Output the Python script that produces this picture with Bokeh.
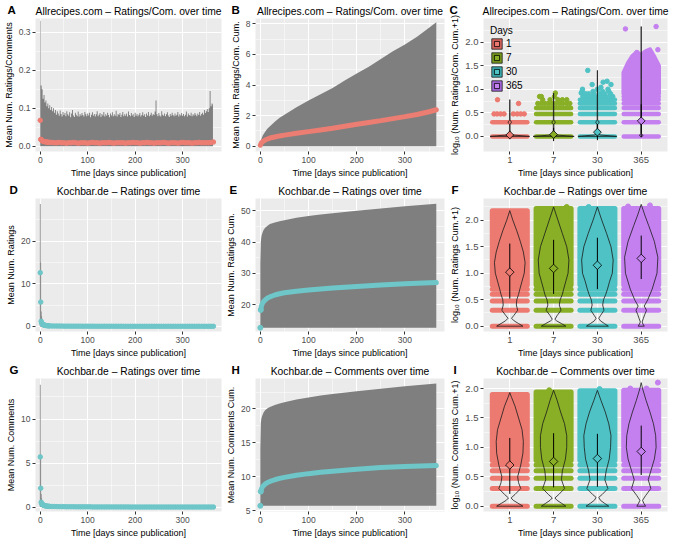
import math
from bokeh.plotting import figure
from bokeh.layouts import gridplot
from bokeh.models import (FixedTicker, NumeralTickFormatter, Legend, LegendItem,
                          Range1d, Title)
from bokeh.embed import file_html
from bokeh.resources import INLINE

# ------------------------------------------------------------------ data
DAY_LABELS = ["1", "7", "30", "365"]
TIME_LABEL = "Time [days since publication]"

A_DAYS = list(range(0, 366, 2))
A_TOP = [
    0.330, 0.160, 0.150, 0.125, 0.135, 0.115, 0.120, 0.105, 0.112, 0.100, 0.108, 0.095, 0.103, 0.092, 0.100,
    0.088, 0.095, 0.083, 0.092, 0.086, 0.080, 0.094, 0.085, 0.078, 0.090, 0.082, 0.087, 0.079, 0.092, 0.084,
    0.080, 0.089, 0.076, 0.086, 0.095, 0.081, 0.077, 0.088, 0.083, 0.079, 0.091, 0.078, 0.085, 0.080, 0.087,
    0.082, 0.078, 0.090, 0.084, 0.079, 0.086, 0.081, 0.088, 0.076, 0.083, 0.089, 0.080, 0.085, 0.078, 0.084,
    0.092, 0.079, 0.083, 0.087, 0.077, 0.085, 0.081, 0.090, 0.078, 0.084, 0.080, 0.088, 0.082, 0.076, 0.086,
    0.081, 0.089, 0.079, 0.084, 0.080, 0.093, 0.078, 0.085, 0.082, 0.087, 0.077, 0.083, 0.090, 0.079, 0.084,
    0.080, 0.086, 0.078, 0.091, 0.082, 0.079, 0.087, 0.081, 0.084, 0.077, 0.088, 0.080, 0.085, 0.079, 0.083,
    0.087, 0.078, 0.082, 0.089, 0.080, 0.084, 0.077, 0.086, 0.081, 0.090, 0.079, 0.083, 0.088, 0.080, 0.085,
    0.082, 0.091, 0.120, 0.084, 0.079, 0.087, 0.081, 0.078, 0.092, 0.083, 0.080, 0.086, 0.079, 0.084, 0.089,
    0.081, 0.077, 0.085, 0.080, 0.088, 0.082, 0.079, 0.086, 0.080, 0.083, 0.090, 0.078, 0.084, 0.081, 0.087,
    0.080, 0.085, 0.079, 0.083, 0.091, 0.078, 0.086, 0.082, 0.080, 0.088, 0.079, 0.084, 0.081, 0.087, 0.083,
    0.079, 0.086, 0.082, 0.090, 0.080, 0.085, 0.088, 0.083, 0.095, 0.087, 0.092, 0.098, 0.090, 0.100, 0.145,
    0.105, 0.112, 0.110]
A_PT_DAYS = [0, 1, 2, 3, 4, 5, 6, 8, 10, 12, 14, 16, 18, 20] + list(range(25, 366, 5))
A_PT_MEAN = [
    0.068, 0.018, 0.017, 0.016, 0.015, 0.014, 0.013, 0.012, 0.012, 0.011, 0.011, 0.010, 0.010, 0.010,
    0.010, 0.009, 0.009, 0.010, 0.009, 0.009, 0.008, 0.009, 0.009, 0.010,
    0.009, 0.008, 0.009, 0.009, 0.009, 0.008, 0.009, 0.010, 0.009, 0.009,
    0.008, 0.009, 0.009, 0.009, 0.010, 0.009, 0.008, 0.009, 0.009, 0.009,
    0.009, 0.008, 0.009, 0.009, 0.010, 0.009, 0.009, 0.008, 0.009, 0.009,
    0.010, 0.009, 0.009, 0.008, 0.009, 0.009, 0.009, 0.010, 0.009, 0.008,
    0.009, 0.009, 0.009, 0.008, 0.009, 0.010, 0.009, 0.009, 0.009, 0.008,
    0.009, 0.009, 0.010, 0.009, 0.009, 0.009, 0.009, 0.010, 0.011]

B_DAYS = [0, 2, 5, 10, 15, 20, 30, 40, 50, 60, 75, 100, 125, 150, 175, 200, 225, 250, 275, 300, 325, 350, 365]
B_UPPER = [0.1, 0.45, 0.7, 0.95, 1.15, 1.3, 1.6, 1.85, 2.05, 2.25, 2.55, 2.98, 3.4, 3.8, 4.3, 4.75,
           5.2, 5.7, 6.2, 6.65, 7.15, 7.75, 8.1]
B_LOWER = 0.0
B_MEAN = [0.06, 0.2, 0.3, 0.4, 0.47, 0.53, 0.6, 0.67, 0.72, 0.77, 0.84, 0.95, 1.06, 1.17, 1.3, 1.43,
          1.55, 1.67, 1.8, 1.93, 2.07, 2.25, 2.38]

D_BAR_DAYS = [0, 1, 2, 3, 4, 5, 6, 7, 8, 9, 10]
D_BAR_TOP = [28.7, 15.0, 3.5, 2.4, 1.8, 1.4, 1.1, 0.9, 0.8, 0.7, 0.6]
D_PT_DAYS = [0, 1, 2, 3, 4, 5, 6, 7, 8, 9, 10, 12, 14, 16, 18, 20] + list(range(25, 366, 5))
D_PT_MEAN = [
    12.6, 5.7, 1.2, 0.8, 0.6, 0.5, 0.42, 0.36, 0.32, 0.28, 0.25, 0.2, 0.17, 0.15, 0.13, 0.11,
    0.09, 0.08, 0.08, 0.07, 0.07, 0.06, 0.06, 0.06, 0.05, 0.05,
    0.05, 0.05, 0.04, 0.04, 0.04, 0.04, 0.04, 0.04, 0.03, 0.03,
    0.03, 0.03, 0.03, 0.03, 0.03, 0.03, 0.03, 0.03, 0.03, 0.03,
    0.02, 0.02, 0.02, 0.02, 0.02, 0.02, 0.02, 0.02, 0.02, 0.02,
    0.02, 0.02, 0.02, 0.02, 0.02, 0.02, 0.02, 0.02, 0.02, 0.02,
    0.02, 0.02, 0.02, 0.02, 0.02, 0.02, 0.02, 0.02, 0.02, 0.02,
    0.02, 0.02, 0.02, 0.02, 0.02, 0.02, 0.02, 0.02, 0.02]

E_DAYS = [0, 1, 2, 3, 5, 7, 10, 15, 20, 30, 40, 50, 75, 100, 125, 150, 200, 250, 300, 365]
E_MEAN = [12.6, 18.3, 19.3, 19.9, 20.6, 21.0, 21.5, 22.1, 22.5, 23.1, 23.5, 23.8, 24.3, 24.7,
          25.0, 25.3, 25.8, 26.3, 26.7, 27.1]
E_UPPER = [33.0, 40.0, 41.5, 42.3, 43.3, 44.0, 44.6, 45.3, 45.8, 46.3, 46.7, 47.0, 47.8, 48.4,
           48.9, 49.3, 50.1, 50.8, 51.5, 52.3]
E_LOWER = 12.6

G_BAR_DAYS = [0, 1, 2, 3, 4, 5, 6, 7, 8, 9, 10]
G_BAR_TOP = [13.9, 6.0, 1.5, 1.0, 0.8, 0.6, 0.5, 0.45, 0.4, 0.35, 0.3]
G_PT_DAYS = [0, 1, 2, 3, 4, 5, 6, 7, 8, 9, 10, 12, 14, 16, 18, 20] + list(range(25, 366, 5))
G_PT_MEAN = [
    5.7, 2.15, 0.55, 0.4, 0.32, 0.27, 0.24, 0.21, 0.19, 0.17, 0.15, 0.13, 0.11, 0.1, 0.09, 0.08,
    0.07, 0.06, 0.06, 0.05, 0.05, 0.05, 0.04, 0.04, 0.04, 0.04,
    0.03, 0.03, 0.03, 0.03, 0.03, 0.03, 0.03, 0.02, 0.02, 0.02,
    0.02, 0.02, 0.02, 0.02, 0.02, 0.02, 0.02, 0.02, 0.02, 0.02,
    0.02, 0.02, 0.02, 0.01, 0.01, 0.01, 0.01, 0.01, 0.01, 0.01,
    0.01, 0.01, 0.01, 0.01, 0.01, 0.01, 0.01, 0.01, 0.01, 0.01,
    0.01, 0.01, 0.01, 0.01, 0.01, 0.01, 0.01, 0.01, 0.01, 0.01,
    0.01, 0.01, 0.01, 0.01, 0.01, 0.01, 0.01, 0.01, 0.01]

H_DAYS = [0, 1, 2, 3, 5, 7, 10, 15, 20, 30, 40, 50, 75, 100, 125, 150, 200, 250, 300, 365]
H_MEAN = [5.7, 7.8, 8.1, 8.3, 8.55, 8.7, 8.9, 9.15, 9.3, 9.55, 9.75, 9.9, 10.2, 10.45,
          10.65, 10.8, 11.1, 11.35, 11.5, 11.65]
H_UPPER = [14.0, 17.9, 18.5, 18.8, 19.2, 19.5, 19.8, 20.1, 20.3, 20.6, 20.8, 21.0, 21.4, 21.7,
           22.0, 22.2, 22.6, 23.0, 23.35, 23.75]
H_LOWER = 5.7

C_BANDS = [[0.0, 0.301], [0.0, 0.301, 0.477, 0.602],
           [0.0, 0.301, 0.477, 0.602, 0.699, 0.778],
           [0.0, 0.301, 0.477, 0.602, 0.699, 0.778, 0.845]]
C_SP_CAT = [1] * 10 + [2] * 19 + [3] * 30 + [4] * 5
C_SP_DX = [-0.36, -0.29, -0.21, -0.13, 0.08, 0.17, 0.25, 0.33, -0.28, 0.2,
           -0.36, -0.28, -0.2, -0.12, -0.04, 0.05, 0.13, 0.21, 0.3, 0.37,
           -0.25, -0.08, 0.1, 0.2, 0.3, -0.32, 0.02, -0.28, 0.04,
           -0.37, -0.3, -0.22, -0.14, -0.06, 0.03, 0.11, 0.19, 0.27, 0.35,
           -0.33, -0.2, -0.08, 0.05, 0.16, 0.3, -0.27, -0.1, 0.12, 0.26,
           -0.35, 0.0, 0.24, -0.34, -0.12, 0.13, 0.31, 0.22, -0.22, 0.08,
           0.17, 0.34, -0.36, 0.38, -0.1]
C_SP_Y = [0.477] * 8 + [0.778, 0.699] + \
         [0.699] * 10 + [0.778] * 5 + [0.845] * 3 + [0.92, 0.92] + \
         [0.845] * 10 + [0.903] * 6 + [0.954] * 4 + [1.0] * 3 + \
         [1.10, 1.15, 1.10, 1.17, 1.40, 1.04, 1.06] + \
         [2.33, 2.28, 1.84, 1.78, 1.90]
C365_LO = 0.903
C365_TOP_DX = [-0.4, -0.3, -0.2, -0.1, 0.0, 0.1, 0.2, 0.3, 0.4]
C365_TOP_Y = [1.35, 1.55, 1.7, 1.78, 1.72, 1.8, 1.84, 1.68, 1.5]
C_V_Y = [[0.0, 0.012, 0.03, 0.06, 0.26, 0.28, 0.30, 0.32, 0.34, 0.5, 0.78],
         [0.0, 0.012, 0.03, 0.06, 0.26, 0.28, 0.30, 0.32, 0.34, 0.5, 0.92],
         [0.0, 0.012, 0.03, 0.06, 0.26, 0.28, 0.30, 0.32, 0.34, 0.5, 1.4],
         [0.0, 0.01, 0.02, 0.035, 0.06, 0.28, 0.3, 0.32, 0.6, 1.2, 2.33]]
C_V_W = [[0.45, 0.3, 0.06, 0.008, 0.006, 0.03, 0.038, 0.03, 0.006, 0.005, 0.0],
         [0.47, 0.3, 0.06, 0.008, 0.006, 0.03, 0.038, 0.03, 0.006, 0.005, 0.0],
         [0.44, 0.3, 0.06, 0.008, 0.006, 0.03, 0.038, 0.03, 0.006, 0.005, 0.0],
         [0.02, 0.035, 0.038, 0.03, 0.006, 0.006, 0.012, 0.006, 0.005, 0.004, 0.0]]
C_MEAN = [0.03, 0.04, 0.09, 0.33]
C_LO = [-0.06, -0.1, -0.08, -0.02]
C_HI = [0.12, 0.18, 0.26, 0.68]

F_BANDS = [[0.0, 0.301, 0.477, 0.602, 0.699], [0.0, 0.301, 0.477, 0.602, 0.699],
           [0.0, 0.301, 0.477, 0.602, 0.699], [0.0, 0.301, 0.477, 0.602, 0.699]]
F_SOLID_LO = [0.778, 0.778, 0.778, 0.778]
F_SOLID_HI = [2.18, 2.22, 2.22, 2.22]
F_SP_CAT = [2, 3, 4, 4]
F_SP_DX = [0.3, -0.2, -0.3, 0.2]
F_SP_Y = [2.25, 2.25, 2.26, 2.28]
F_V_Y = [[0.0, 0.05, 0.1, 0.15, 0.2, 0.3, 0.4, 0.5, 0.6, 0.7, 0.85, 1.0, 1.2, 1.4, 1.6, 1.8, 2.0, 2.18],
         [0.0, 0.05, 0.1, 0.13, 0.2, 0.3, 0.4, 0.5, 0.6, 0.7, 0.85, 1.0, 1.25, 1.5, 1.75, 2.0, 2.25],
         [0.0, 0.05, 0.1, 0.15, 0.2, 0.3, 0.4, 0.5, 0.6, 0.7, 0.85, 1.0, 1.25, 1.5, 1.75, 2.0, 2.25],
         [0.0, 0.04, 0.08, 0.15, 0.22, 0.3, 0.38, 0.5, 0.7, 1.0, 1.3, 1.6, 1.9, 2.1, 2.3]]
F_V_W = [[0.30, 0.2, 0.1, 0.04, 0.09, 0.18, 0.15, 0.16, 0.2, 0.23, 0.28, 0.33, 0.35, 0.31, 0.24, 0.16, 0.07, 0.0],
         [0.28, 0.18, 0.07, 0.03, 0.08, 0.17, 0.13, 0.15, 0.2, 0.23, 0.28, 0.33, 0.35, 0.30, 0.20, 0.10, 0.0],
         [0.25, 0.16, 0.07, 0.03, 0.07, 0.15, 0.12, 0.14, 0.19, 0.23, 0.28, 0.34, 0.36, 0.31, 0.21, 0.10, 0.0],
         [0.07, 0.04, 0.02, 0.05, 0.08, 0.12, 0.07, 0.15, 0.25, 0.36, 0.38, 0.30, 0.17, 0.08, 0.0]]
F_MEAN = [1.02, 1.09, 1.15, 1.28]
F_LO = [0.52, 0.61, 0.70, 0.89]
F_HI = [1.56, 1.63, 1.67, 1.71]

I_BANDS = [[0.0, 0.301, 0.477, 0.602, 0.699], [0.0, 0.301, 0.477, 0.602, 0.699],
           [0.0, 0.301, 0.477, 0.602, 0.699], [0.0, 0.301, 0.477, 0.602, 0.699]]
I_SOLID_LO = [0.778, 0.778, 0.778, 0.778]
I_SOLID_HI = [1.9, 1.94, 1.96, 1.97]
I_SP_CAT = [2, 3, 4, 4, 4]
I_SP_DX = [-0.1, 0.05, 0.38, 0.12, -0.25]
I_SP_Y = [1.97, 1.99, 2.1, 2.0, 2.0]
I_V_Y = [[0.0, 0.05, 0.1, 0.14, 0.2, 0.3, 0.4, 0.5, 0.7, 0.9, 1.1, 1.3, 1.5, 1.7, 1.85, 1.93],
         [0.0, 0.05, 0.1, 0.14, 0.2, 0.3, 0.45, 0.6, 0.8, 1.0, 1.2, 1.4, 1.6, 1.8, 1.97],
         [0.0, 0.05, 0.1, 0.15, 0.2, 0.3, 0.45, 0.6, 0.8, 1.0, 1.2, 1.4, 1.6, 1.8, 1.97],
         [0.0, 0.05, 0.1, 0.18, 0.3, 0.45, 0.6, 0.8, 1.0, 1.2, 1.4, 1.6, 1.8, 2.0, 2.1]]
I_V_W = [[0.30, 0.19, 0.08, 0.03, 0.12, 0.25, 0.2, 0.18, 0.25, 0.3, 0.31, 0.28, 0.2, 0.12, 0.04, 0.0],
         [0.28, 0.18, 0.08, 0.03, 0.12, 0.25, 0.18, 0.2, 0.27, 0.3, 0.3, 0.25, 0.16, 0.08, 0.0],
         [0.26, 0.16, 0.07, 0.03, 0.11, 0.24, 0.17, 0.2, 0.27, 0.3, 0.31, 0.26, 0.18, 0.08, 0.0],
         [0.10, 0.06, 0.03, 0.1, 0.22, 0.16, 0.22, 0.3, 0.34, 0.33, 0.28, 0.2, 0.11, 0.03, 0.0]]
I_MEAN = [0.70, 0.76, 0.81, 0.93]
I_LO = [0.21, 0.32, 0.33, 0.53]
I_HI = [1.16, 1.24, 1.23, 1.37]

# ------------------------------------------------------------------ style
FONT = "Liberation Sans"
BG = "#EBEBEB"
GREY = "#7F7F7F"
PINK = "#EC7D73"
TEAL = "#6EC6C8"
CAT_COLORS = ["#EC7A70", "#88AF25", "#4EC2C4", "#C580F0"]
CAT_DARK = ["#D9645E", "#779A1A", "#3AAEB0", "#A867E0"]

W, H = 223, 180
TOP, BOTTOM, RIGHT = 18, 29, 2
T_XR = (-10, 382)
LETTER_SIZE = 11.5
# two-line letter title with a negative standoff: zero-height panel, text lifted into the title row
LETTER_STANDOFF = -28.5


def make_fig(letter, title, ylabel, left, xr, yr, xticks, xminor, yticks, yminor,
             yfmt, tick_size):
    p = figure(width=W, height=H, output_backend="svg", toolbar_location=None,
               x_range=Range1d(*xr), y_range=Range1d(*yr),
               min_border_left=left, min_border_right=RIGHT,
               min_border_top=TOP, min_border_bottom=BOTTOM)
    p.title.text = title
    p.title.align = "center"
    p.title.text_font = FONT
    p.title.text_font_size = "10.3px"
    p.title.text_font_style = "normal"
    p.title.text_color = "black"
    p.title.standoff = 3
    p.add_layout(Title(text=letter + "\n\u00a0", align="left", offset=-(left - 3),
                       vertical_align="top", standoff=LETTER_STANDOFF,
                       text_font=FONT, text_font_style="bold",
                       text_font_size=f"{LETTER_SIZE}px", text_color="black"), "above")
    p.background_fill_color = BG
    p.border_fill_color = "white"
    p.outline_line_color = None
    p.xaxis.axis_label = TIME_LABEL
    p.yaxis.axis_label = ylabel
    for ax in p.axis:
        ax.axis_line_color = None
        ax.major_tick_out = 3
        ax.major_tick_in = 0
        ax.minor_tick_out = 0
        ax.minor_tick_in = 0
        ax.major_tick_line_color = "#333333"
        ax.major_label_text_font = FONT
        ax.major_label_text_font_size = tick_size
        ax.major_label_text_color = "#4D4D4D"
        ax.major_label_standoff = 2
        ax.axis_label_text_font = FONT
        ax.axis_label_text_font_size = "9px"
        ax.axis_label_text_font_style = "normal"
        ax.axis_label_text_color = "black"
        ax.axis_label_standoff = 2
    p.xaxis.ticker = FixedTicker(ticks=xticks, minor_ticks=xminor)
    p.yaxis.ticker = FixedTicker(ticks=yticks, minor_ticks=yminor)
    p.yaxis.formatter = NumeralTickFormatter(format=yfmt)
    for g in (p.xgrid, p.ygrid):
        g.grid_line_color = "white"
        g.grid_line_width = 1
        g.minor_grid_line_color = "white"
        g.minor_grid_line_width = 0.5
    return p


def time_fig(letter, title, ylabel, left, yr, yticks, yminor, yfmt):
    return make_fig(letter, title, ylabel, left, T_XR, yr, [0, 100, 200, 300],
                    [50, 150, 250, 350], yticks, yminor, yfmt, "8.5px")


def violin_fig(letter, title, ylabel, left, yr, yticks, yminor):
    p = make_fig(letter, title, ylabel, left, (0.4, 4.6), yr, [1, 2, 3, 4], [],
                 yticks, yminor, "0.0", "9.5px")
    p.xaxis.major_label_overrides = {1: DAY_LABELS[0], 2: DAY_LABELS[1],
                                     3: DAY_LABELS[2], 4: DAY_LABELS[3]}
    return p


def draw_violins(p, bands, sp_cat, sp_dx, sp_y, vys, vws, lo, hi, mean, pt, dsize,
                 solid_lo=None, solid_hi=None):
    x0, x1, yy, cc = [], [], [], []
    for k, levels in enumerate(bands):
        for lv in levels:
            x0.append(k + 1 - 0.4)
            x1.append(k + 1 + 0.4)
            yy.append(lv)
            cc.append(CAT_COLORS[k])
    p.segment(x0=x0, y0=yy, x1=x1, y1=yy, line_color=cc, line_width=pt, line_cap="round")
    if solid_lo is not None:
        for k in range(4):
            p.quad(left=[k + 1 - 0.4], right=[k + 1 + 0.4], bottom=[solid_lo[k]], top=[solid_hi[k]],
                   fill_color=CAT_COLORS[k], line_color=CAT_COLORS[k], line_width=pt,
                   line_join="round")
    p.scatter(x=[c + d for c, d in zip(sp_cat, sp_dx)], y=sp_y, size=pt,
              color=[CAT_COLORS[c - 1] for c in sp_cat])
    patches = []
    for k in range(4):
        c = k + 1
        vy, vw = vys[k], vws[k]
        xs = [c + w for w in vw] + [c - w for w in reversed(vw)]
        ys = list(vy) + list(reversed(vy))
        patches.append(p.patch(xs, ys, fill_alpha=0, line_color="#1A1A1A", line_width=0.8))
    p.segment(x0=[1, 2, 3, 4], x1=[1, 2, 3, 4], y0=lo, y1=hi, line_color="black", line_width=1)
    rs = []
    for k in range(4):
        rs.append(p.scatter([k + 1], [mean[k]], marker="square", angle=math.pi / 4, size=dsize,
                            fill_color=CAT_COLORS[k], line_color="black", line_width=0.8))
    return patches, rs


# ------------------------------------------------------------------ A
pA = time_fig("A", "Allrecipes.com \u2013 Ratings/Com. over time", "Mean Num. Ratings/Comments",
              31, (-0.014, 0.336), [0.0, 0.1, 0.2, 0.3], [0.05, 0.15, 0.25], "0.0")
pA.varea_step(x=A_DAYS, y1=0, y2=A_TOP, step_mode="center", fill_color=GREY)
pA.scatter(A_PT_DAYS, A_PT_MEAN, size=4.5, color=PINK)

# ------------------------------------------------------------------ B
pB = time_fig("B", "Allrecipes.com \u2013 Ratings/Com. over time", "Mean Num. Ratings/Com. Cum.",
              27, (-0.35, 8.35), [0, 2, 4, 6, 8], [1, 3, 5, 7], "0")
pB.varea(x=B_DAYS, y1=B_LOWER, y2=B_UPPER, fill_color=GREY)
pB.line(B_DAYS, B_MEAN, line_width=5, line_color=PINK, line_cap="round")

# ------------------------------------------------------------------ C
pC = violin_fig("C", "Allrecipes.com \u2013 Ratings/Com. over time",
                "log\u2081\u2080 (Num. Ratings/Com. Cum.+1)", 37, (-0.32, 2.5),
                [0.0, 0.5, 1.0, 1.5, 2.0], [0.25, 0.75, 1.25, 1.75, 2.25])
pC.patch([4 + d for d in [-0.4] + C365_TOP_DX + [0.4]],
         [C365_LO] + C365_TOP_Y + [C365_LO],
         fill_color=CAT_COLORS[3], line_color=CAT_COLORS[3], line_width=4.5, line_join="round")
c_patches, c_diamonds = draw_violins(pC, C_BANDS, C_SP_CAT, C_SP_DX, C_SP_Y, C_V_Y, C_V_W,
                                     C_LO, C_HI, C_MEAN, 4.5, 5.5)
items = []
for k in range(4):
    n = len(C_BANDS[k])
    # zero-height quads along the jitter rows: invisible in the panel, filled key in the legend
    kq = pC.quad(left=[k + 1 - 0.4] * n, right=[k + 1 + 0.4] * n, top=C_BANDS[k],
                 bottom=C_BANDS[k], fill_color=CAT_DARK[k], line_color=None)
    items.append(LegendItem(label=DAY_LABELS[k], renderers=[kq, c_patches[k], c_diamonds[k]]))
legend = Legend(items=items, location="top_left", title="Days",
                glyph_width=13, glyph_height=13, label_height=13, spacing=1,
                label_standoff=3, padding=3, margin=4, title_standoff=1,
                border_line_alpha=0, background_fill_alpha=0,
                label_text_font=FONT, label_text_font_size="10px", label_text_color="black",
                title_text_font=FONT, title_text_font_size="10px", title_text_color="black",
                title_text_font_style="normal")
pC.add_layout(legend)

# ------------------------------------------------------------------ D
pD = time_fig("D", "Kochbar.de \u2013 Ratings over time", "Mean Num. Ratings",
              29, (-1.2, 30.0), [0, 10, 20], [5, 15, 25], "0")
pD.vbar(x=D_BAR_DAYS, width=1.6, top=D_BAR_TOP, bottom=0, fill_color=GREY, line_color=None)
pD.scatter(D_PT_DAYS, D_PT_MEAN, size=4.5, color=TEAL)

# ------------------------------------------------------------------ E
pE = time_fig("E", "Kochbar.de \u2013 Ratings over time", "Mean Num. Ratings Cum.",
              29, (11.4, 54.0), [20, 30, 40, 50], [15, 25, 35, 45], "0")
pE.varea(x=E_DAYS, y1=E_LOWER, y2=E_UPPER, fill_color=GREY)
pE.line(E_DAYS[1:], E_MEAN[1:], line_width=5, line_color=TEAL, line_cap="round")
pE.scatter(E_DAYS[:2], E_MEAN[:2], size=5, color=TEAL)

# ------------------------------------------------------------------ F
pF = violin_fig("F", "Kochbar.de \u2013 Ratings over time",
                "log\u2081\u2080 (Num. Ratings Cum.+1)", 35, (-0.1, 2.41),
                [0.0, 0.5, 1.0, 1.5, 2.0], [0.25, 0.75, 1.25, 1.75, 2.25])
draw_violins(pF, F_BANDS, F_SP_CAT, F_SP_DX, F_SP_Y, F_V_Y, F_V_W, F_LO, F_HI, F_MEAN,
             5, 6, F_SOLID_LO, F_SOLID_HI)

# ------------------------------------------------------------------ G
pG = time_fig("G", "Kochbar.de \u2013 Ratings over time", "Mean Num. Comments",
              29, (-0.5, 14.6), [0, 5, 10], [2.5, 7.5, 12.5], "0")
pG.vbar(x=G_BAR_DAYS, width=1.6, top=G_BAR_TOP, bottom=0, fill_color=GREY, line_color=None)
pG.scatter(G_PT_DAYS, G_PT_MEAN, size=4.5, color=TEAL)

# ------------------------------------------------------------------ H
pH = time_fig("H", "Kochbar.de \u2013 Comments over time", "Mean Num. Comments Cum.",
              27, (4.86, 24.5), [5, 10, 15, 20], [7.5, 12.5, 17.5, 22.5], "0")
pH.varea(x=H_DAYS, y1=H_LOWER, y2=H_UPPER, fill_color=GREY)
pH.line(H_DAYS[1:], H_MEAN[1:], line_width=5, line_color=TEAL, line_cap="round")
pH.scatter(H_DAYS[:2], H_MEAN[:2], size=5, color=TEAL)

# ------------------------------------------------------------------ I
pI = violin_fig("I", "Kochbar.de \u2013 Comments over time",
                "log\u2081\u2080 (Num. Comments Cum.+1)", 33, (-0.09, 2.17),
                [0.0, 0.5, 1.0, 1.5, 2.0], [0.25, 0.75, 1.25, 1.75])
draw_violins(pI, I_BANDS, I_SP_CAT, I_SP_DX, I_SP_Y, I_V_Y, I_V_W, I_LO, I_HI, I_MEAN,
             5, 6, I_SOLID_LO, I_SOLID_HI)

grid = gridplot([[pA, pB, pC], [pD, pE, pF], [pG, pH, pI]], toolbar_location=None)

open("out.html", "w").write(file_html(grid, INLINE))
